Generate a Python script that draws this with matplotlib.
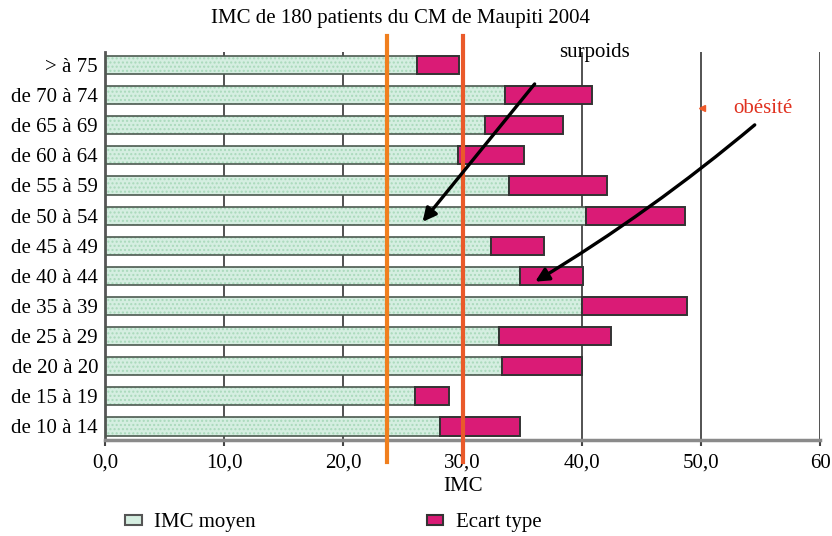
import matplotlib
matplotlib.use('Agg')
import matplotlib.pyplot as plt
from matplotlib.patches import Rectangle
import numpy as np

plt.rcParams['font.family'] = ['Liberation Serif', 'DejaVu Serif']

# age groups, top to bottom as in the picture
groupes = ['> à 75', 'de 70 à 74', 'de 65 à 69', 'de 60 à 64', 'de 55 à 59',
           'de 50 à 54', 'de 45 à 49', 'de 40 à 44', 'de 35 à 39', 'de 25 à 29',
           'de 20 à 20', 'de 15 à 19', 'de 10 à 14']
imc_moyen = [26.2, 33.6, 31.9, 29.6, 33.9, 40.4, 32.4, 34.8, 40.0, 33.1, 33.3, 26.0, 28.1]
ecart_type = [3.5, 7.3, 6.5, 5.6, 8.2, 8.3, 4.4, 5.3, 8.8, 9.4, 6.7, 2.9, 6.7]

seuil_surpoids = 23.7
seuil_obesite = 30.0

x_ticks = [0, 10, 20, 30, 40, 50, 60]
x_labels = ['0,0', '10,0', '20,0', '30,0', '40,0', '50,0', '60']

green = '#d5eee1'
green_dots = '#a9d9bb'
magenta = '#da1b76'

fig = plt.figure(figsize=(8.32, 5.36), dpi=100)
ax = fig.add_axes([0.1262, 0.179, 0.8594, 0.724])

y = np.arange(len(groupes))[::-1]
h = 0.6

# vertical grid behind the bars
for xv in x_ticks[1:]:
    ax.axvline(xv, color='#444444', lw=1.3, zorder=0)

# mean bars: dotted fill, then outline
ax.barh(y, imc_moyen, height=h, color=green, edgecolor=green_dots, lw=0,
        hatch='....', zorder=2)
ax.barh(y, imc_moyen, height=h, fill=False, edgecolor='#4d5a50', lw=1.2, zorder=3)
ax.barh(y, ecart_type, left=imc_moyen, height=h, color=magenta,
        edgecolor='#333333', lw=1.4, zorder=3)

# thresholds
trans = ax.get_xaxis_transform()
ax.plot([seuil_surpoids, seuil_surpoids], [-0.057, 1.041], color='#f07f1e', lw=3,
        transform=trans, clip_on=False, zorder=5)
ax.plot([seuil_obesite, seuil_obesite], [-0.057, 1.041], color='#ea5a2a', lw=3,
        transform=trans, clip_on=False, zorder=5)

# annotations
ax.text(41.1, 12.4, 'surpoids', fontsize=15, ha='center', va='center',
        clip_on=False, zorder=6)
ax.text(55.2, 10.57, 'obésité', fontsize=15, color='#e0301e', ha='center',
        va='center', zorder=6)
ax.plot([50.1], [10.57], marker='<', color='#ef5a2a', ms=4, zorder=6)
ax.annotate('', xy=(26.5, 6.72), xytext=(36.2, 11.44),
            arrowprops=dict(arrowstyle='-|>', color='black', lw=2.4,
                            mutation_scale=20), zorder=6)
ax.annotate('', xy=(35.9, 4.76), xytext=(54.7, 10.07),
            arrowprops=dict(arrowstyle='-|>', color='black', lw=2.4,
                            mutation_scale=20, connectionstyle='arc3,rad=-0.04'),
            zorder=6)

ax.set_xlim(0, 60)
ax.set_ylim(-0.45, 12.43)
ax.set_xticks(x_ticks)
ax.set_xticklabels(x_labels, fontsize=15)
ax.set_yticks(y)
ax.set_yticklabels(groupes, fontsize=15)
ax.tick_params(axis='y', length=0, pad=5)
ax.tick_params(axis='x', length=4, width=1.5, color='#444444', pad=6)
ax.set_xlabel('IMC', fontsize=15, labelpad=3)

for s in ['top', 'right']:
    ax.spines[s].set_visible(False)
ax.spines['bottom'].set_color('#8a8a8a')
ax.spines['bottom'].set_linewidth(2.5)
ax.spines['left'].set_color('#555555')
ax.spines['left'].set_linewidth(2.0)

fig.text(0.481, 0.966, 'IMC de 180 patients du CM de Maupiti 2004', fontsize=15,
         ha='center', va='center')

handles = [Rectangle((0, 0), 1, 1, facecolor=green, edgecolor='#555555', lw=1.5),
           Rectangle((0, 0), 1, 1, facecolor=magenta, edgecolor='#333333', lw=1.5)]
fig.legend(handles, ['IMC moyen', 'Ecart type'], loc='center left',
           bbox_to_anchor=(125 / 832, 1 - 523 / 536), ncol=2, frameon=False,
           fontsize=15, borderpad=0, borderaxespad=0, handlelength=0.8,
           handleheight=0.4, handletextpad=0.6, columnspacing=8.2)

fig.savefig('out.png', dpi=100)
